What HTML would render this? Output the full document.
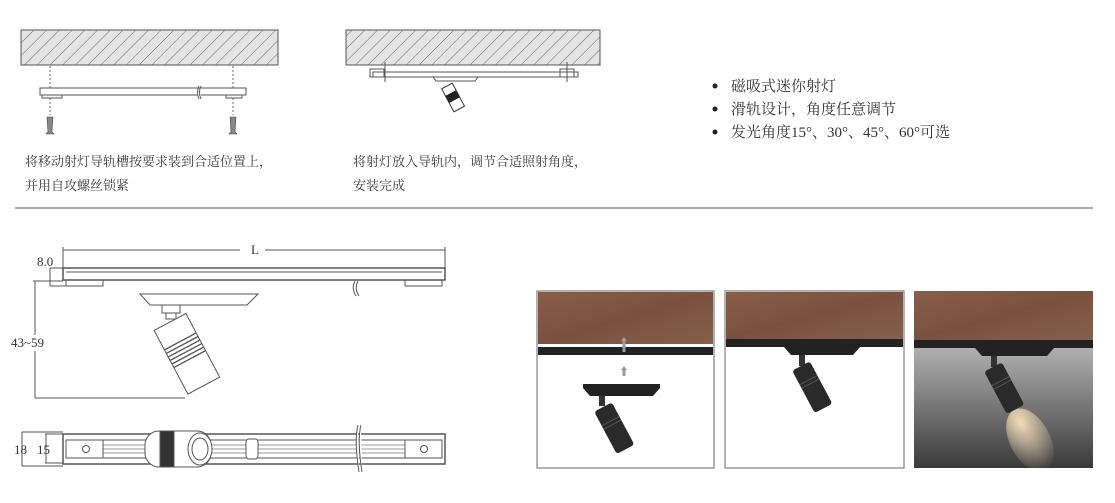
<!DOCTYPE html>
<html><head><meta charset="utf-8"><style>
body{margin:0;width:1115px;height:503px;background:#fff;overflow:hidden;position:relative;font-family:"Liberation Serif","Noto Serif CJK SC",serif;color:#333}
.t{position:absolute;font-size:13px;white-space:nowrap;color:#3a3a3a}
.b{position:absolute;font-size:15px;white-space:nowrap;color:#333}
.d{position:absolute;font-size:13px;font-family:"Liberation Serif",serif;color:#333}
</style></head><body>
<svg width="1115" height="503" style="position:absolute;left:0;top:0">
<defs>
<pattern id="h" width="9" height="9" patternUnits="userSpaceOnUse" patternTransform="rotate(45)"><rect width="9" height="9" fill="#e4e4e4"/><line x1="0" y1="0" x2="0" y2="9" stroke="#666" stroke-width="1"/></pattern>
<linearGradient id="wd" x1="0" x2="1" y1="0" y2="1"><stop offset="0" stop-color="#8a5e47"/><stop offset=".5" stop-color="#7a5140"/><stop offset="1" stop-color="#86604a"/></linearGradient>
<linearGradient id="gr" x1="0" x2="0" y1="0" y2="1"><stop offset="0" stop-color="#e8e8e8"/><stop offset="1" stop-color="#3a3a3a"/></linearGradient>
<radialGradient id="bm" cx=".5" cy=".2" r=".8"><stop offset="0" stop-color="#f4dcb8"/><stop offset="1" stop-color="#f4dcb8" stop-opacity="0"/></radialGradient>
</defs>
<!-- top hatched boxes -->
<rect x="21" y="30" width="257" height="35" fill="url(#h)" stroke="#555"/>
<rect x="346" y="30" width="254" height="35" fill="url(#h)" stroke="#555"/>
<!-- step1 -->
<line x1="50" y1="66" x2="50" y2="115" stroke="#666" stroke-dasharray="2,2"/>
<line x1="233" y1="66" x2="233" y2="115" stroke="#666" stroke-dasharray="2,2"/>
<rect x="40" y="88" width="206" height="7" fill="#fff" stroke="#555"/>
<rect x="42" y="95" width="20" height="3" fill="#fff" stroke="#555"/>
<rect x="226" y="95" width="16" height="3" fill="#fff" stroke="#555"/>
<path d="M199 86 Q196 92 199 99 M201 86 Q198 92 201 99" stroke="#555" fill="#fff"/>
<g fill="#888" stroke="#444" stroke-width=".6"><path d="M47 117 L53 117 L52 132 L54 134 L46 134 L48 132Z"/><path d="M230 117 L236 117 L235 132 L237 134 L229 134 L231 132Z"/></g>
<!-- step2 -->
<rect x="373" y="72" width="205" height="5" fill="#fff" stroke="#555"/>
<rect x="370" y="69" width="14" height="8" fill="none" stroke="#555"/>
<rect x="560" y="69" width="14" height="8" fill="none" stroke="#555"/>
<line x1="385" y1="62" x2="385" y2="82" stroke="#555"/><line x1="567" y1="62" x2="567" y2="82" stroke="#555"/>
<path d="M433 77 L478 77 L475 81 L436 81Z" fill="#fff" stroke="#555"/>
<g transform="translate(447,86) rotate(-28)"><rect x="-6" y="0" width="12" height="26" fill="#fff" stroke="#333"/><rect x="-6" y="8" width="12" height="8" fill="#222"/></g>
<!-- texts lines -->
<line x1="15" y1="208" x2="1093" y2="208" stroke="#555" stroke-width="1"/>
<!-- dimension drawing -->
<g stroke="#555" fill="none" stroke-width="1">
<line x1="63" y1="250" x2="240" y2="250"/><line x1="265" y1="250" x2="445" y2="250"/>
<line x1="63" y1="247" x2="63" y2="268"/><line x1="445" y1="247" x2="445" y2="268"/>
<rect x="63" y="268" width="382" height="12" stroke-width="1.5"/>
<line x1="66" y1="272" x2="442" y2="272"/>
<rect x="66" y="280" width="37" height="6"/><rect x="405" y="280" width="37" height="6"/>
<line x1="50" y1="268" x2="63" y2="268"/><line x1="50" y1="286" x2="66" y2="286"/><line x1="50" y1="268" x2="50" y2="286"/>
<line x1="33" y1="281" x2="63" y2="281"/><line x1="35" y1="281" x2="35" y2="398"/><line x1="35" y1="398" x2="185" y2="398"/>
<path d="M140 294 L258 294 L247 305 L150 305Z" fill="#fff"/>
<rect x="162" y="305" width="18" height="8" fill="#fff"/>
<rect x="166" y="313" width="10" height="6" fill="#fff"/>
<g transform="translate(170,322) rotate(-28)"><rect x="-18" y="0" width="36" height="72" fill="#fff"/><g stroke-width="1.3"><line x1="-18" y1="22" x2="18" y2="22"/><line x1="-18" y1="26" x2="18" y2="26"/><line x1="-18" y1="30" x2="18" y2="30"/><line x1="-18" y1="34" x2="18" y2="34"/><line x1="-18" y1="38" x2="18" y2="38"/><line x1="-18" y1="42" x2="18" y2="42"/></g></g>
<path d="M355 281 Q351 288 356 296 M358 281 Q354 288 359 296" fill="#fff"/>
<!-- bottom rail -->
<rect x="63" y="434" width="382" height="30" stroke-width="1.5"/>
<line x1="66" y1="440" x2="442" y2="440"/><line x1="66" y1="458" x2="442" y2="458"/>
<line x1="66" y1="445" x2="442" y2="445" stroke="#999"/><line x1="66" y1="449" x2="442" y2="449" stroke="#999"/><line x1="66" y1="453" x2="442" y2="453" stroke="#999"/>
<rect x="66" y="440" width="37" height="18" fill="#fff"/><rect x="405" y="440" width="37" height="18" fill="#fff"/>
<circle cx="86" cy="449" r="3.5"/><circle cx="424" cy="449" r="3.5"/>
<rect x="246" y="439" width="12" height="20" rx="3" fill="#fff"/>
<rect x="145" y="431" width="66" height="36" rx="14" fill="#fff"/>
<rect x="160" y="431" width="14" height="36" fill="#333"/>
<ellipse cx="200" cy="449" rx="12" ry="16" fill="#fff"/><ellipse cx="200" cy="449" rx="8" ry="11"/>
<line x1="22" y1="432" x2="63" y2="432"/><line x1="22" y1="466" x2="63" y2="466"/>
<line x1="45" y1="434" x2="63" y2="434"/><line x1="45" y1="463" x2="63" y2="463"/>
<line x1="22" y1="432" x2="22" y2="466"/><line x1="46" y1="434" x2="46" y2="463"/>
<path d="M358 425 Q354 440 359 472 M361 425 Q357 440 362 472" fill="#fff"/>
</g>
<!-- photo panels -->
<g>
<rect x="537" y="291" width="177" height="177" fill="#fff" stroke="#999" stroke-width="1.5"/>
<rect x="538" y="292" width="175" height="52" fill="url(#wd)"/>
<rect x="538" y="347" width="175" height="8" fill="#222"/>
<path d="M621 341 L624 337 L627 341 L625.5 341 L625.5 352 L622.5 352 L622.5 341Z" fill="#999"/>
<path d="M621 370 L624 366 L627 370 L625.5 370 L625.5 376 L622.5 376 L622.5 370Z" fill="#999"/>
<path d="M583 384 L660 384 L660 388 L653 396 L590 396 L583 388Z" fill="#222"/>
<rect x="599" y="396" width="6" height="10" fill="#333"/>
<g transform="translate(603,407) rotate(-28)"><rect x="-10" y="0" width="20" height="48" rx="3" fill="#2a2a2a"/><line x1="-10" y1="16" x2="10" y2="16" stroke="#555"/><line x1="-10" y1="20" x2="10" y2="20" stroke="#555"/></g>

<rect x="725" y="291" width="179" height="177" fill="#fff" stroke="#999" stroke-width="1.5"/>
<rect x="726" y="292" width="177" height="47" fill="url(#wd)"/>
<rect x="726" y="339" width="177" height="8" fill="#222"/>
<path d="M784 347 L860 347 L853 355 L791 355Z" fill="#222"/>
<rect x="799" y="355" width="6" height="11" fill="#333"/>
<g transform="translate(801,366) rotate(-28)"><rect x="-10" y="0" width="20" height="48" rx="3" fill="#2a2a2a"/><line x1="-10" y1="16" x2="10" y2="16" stroke="#555"/><line x1="-10" y1="20" x2="10" y2="20" stroke="#555"/></g>

<rect x="914" y="291" width="179" height="177" fill="url(#gr)"/>
<rect x="914" y="291" width="179" height="49" fill="url(#wd)"/>
<rect x="914" y="340" width="179" height="8" fill="#222"/>
<path d="M975 348 L1054 348 L1047 356 L982 356Z" fill="#222"/>
<rect x="991" y="356" width="6" height="11" fill="#333"/>
<ellipse cx="1030" cy="440" rx="20" ry="34" fill="url(#bm)" transform="rotate(-28 1030 440)"/>
<g transform="translate(993,367) rotate(-28)"><rect x="-10" y="0" width="20" height="48" rx="3" fill="#2a2a2a"/><line x1="-10" y1="16" x2="10" y2="16" stroke="#555"/><line x1="-10" y1="20" x2="10" y2="20" stroke="#555"/></g>
</g>
<g fill="#222"><circle cx="715" cy="86" r="2.5"/><circle cx="715" cy="109" r="2.5"/><circle cx="715" cy="132" r="2.5"/></g>
</svg>
<div class="t" style="left:25px;top:151px">将移动射灯导轨槽按要求装到合适位置上，</div>
<div class="t" style="left:25px;top:175px">并用自攻螺丝锁紧</div>
<div class="t" style="left:353px;top:151px">将射灯放入导轨内，调节合适照射角度，</div>
<div class="t" style="left:353px;top:175px">安装完成</div>
<div class="b" style="left:731px;top:75px">磁吸式迷你射灯</div>
<div class="b" style="left:731px;top:98px">滑轨设计，角度任意调节</div>
<div class="b" style="left:731px;top:121px">发光角度15°、30°、45°、60°可选</div>
<div class="d" style="left:249px;top:242px;background:#fff;padding:0 2px">L</div>
<div class="d" style="left:37px;top:254px">8.0</div>
<div class="d" style="left:11px;top:335px;background:#fff">43~59</div>
<div class="d" style="left:14px;top:442px">18</div>
<div class="d" style="left:37px;top:442px">15</div>
</body></html>
